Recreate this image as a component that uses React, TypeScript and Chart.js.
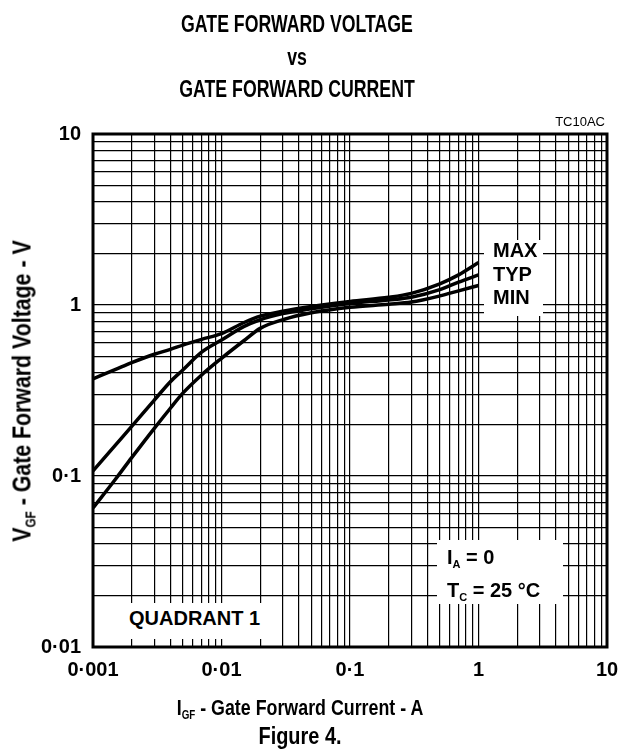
import React, { useEffect, useRef } from 'react';
import { Chart, registerables } from 'chart.js';

Chart.register(...registerables);

// ---- data ----
const currentA = [0.001, 0.0015, 0.002, 0.003, 0.004, 0.005, 0.007, 0.01, 0.015, 0.02, 0.03, 0.05, 0.1, 0.2, 0.3, 0.5, 0.7, 1.0];
const vMax = [0.37, 0.42, 0.46, 0.515, 0.55, 0.583, 0.63, 0.68, 0.79, 0.86, 0.92, 0.98, 1.05, 1.11, 1.17, 1.33, 1.5, 1.77];
const vTyp = [0.107, 0.152, 0.195, 0.278, 0.356, 0.417, 0.53, 0.624, 0.75, 0.82, 0.89, 0.95, 1.02, 1.07, 1.11, 1.23, 1.36, 1.5];
const vMin = [0.065, 0.096, 0.128, 0.19, 0.249, 0.305, 0.39, 0.488, 0.62, 0.73, 0.82, 0.9, 0.97, 1.01, 1.04, 1.13, 1.21, 1.3];

const xMajor = [0.001, 0.01, 0.1, 1, 10];
const xMajorLabels = ['0·001', '0·01', '0·1', '1', '10'];
const yMajor = [0.01, 0.1, 1, 10];
const yMajorLabels = ['0·01', '0·1', '1', '10'];
const minorMultipliers = [1, 2, 3, 4, 5, 6, 7, 8, 9];

const FONT = '"Liberation Sans", Arial, Helvetica, sans-serif';

function decadeTicks(majors: number[]) {
  const out: { value: number }[] = [];
  for (let i = 0; i < majors.length; i++) {
    if (i === majors.length - 1) {
      out.push({ value: majors[i] });
    } else {
      for (const m of minorMultipliers) out.push({ value: majors[i] * m });
    }
  }
  return out;
}

function labelFor(v: number, majors: number[], labels: string[]) {
  for (let i = 0; i < majors.length; i++) {
    if (Math.abs(Math.log10(v) - Math.log10(majors[i])) < 1e-6) return labels[i];
  }
  return '';
}

const framePlugin = {
  id: 'frame',
  afterDraw(chart: any) {
    const { ctx, chartArea } = chart;
    ctx.save();
    ctx.strokeStyle = '#000';
    ctx.lineWidth = 3;
    ctx.strokeRect(chartArea.left, chartArea.top, chartArea.right - chartArea.left, chartArea.bottom - chartArea.top);
    ctx.restore();
  },
};

export default function App() {
  const ref = useRef<HTMLCanvasElement | null>(null);

  useEffect(() => {
    if (!ref.current) return;
    const mk = (vals: number[]) => currentA.map((x, i) => ({ x, y: vals[i] }));
    const lineStyle = {
      borderColor: '#000',
      borderWidth: 3.5,
      pointRadius: 0,
      fill: false,
      cubicInterpolationMode: 'monotone' as const,
    };
    const chart = new Chart(ref.current, {
      type: 'line',
      data: {
        datasets: [
          { label: 'MAX', data: mk(vMax), ...lineStyle },
          { label: 'TYP', data: mk(vTyp), ...lineStyle },
          { label: 'MIN', data: mk(vMin), ...lineStyle },
        ],
      },
      options: {
        animation: false,
        responsive: false,
        layout: { padding: { left: 0, right: 12, top: 134, bottom: 67 } },
        plugins: { legend: { display: false }, tooltip: { enabled: false }, title: { display: false } },
        scales: {
          x: {
            type: 'logarithmic',
            min: 0.001,
            max: 10,
            afterBuildTicks: (s: any) => { s.ticks = decadeTicks(xMajor); },
            afterFit: (s: any) => { s.height = 40; s.paddingLeft = 0; s.paddingRight = 0; },
            grid: { color: '#000', lineWidth: 1.2, drawTicks: false },
            border: { display: false },
            ticks: {
              autoSkip: false,
              maxRotation: 0,
              minRotation: 0,
              padding: 11,
              color: '#000',
              font: { family: FONT, weight: 'bold', size: 20 },
              callback: (v: any) => labelFor(Number(v), xMajor, xMajorLabels),
            },
          },
          y: {
            type: 'logarithmic',
            min: 0.01,
            max: 10,
            afterBuildTicks: (s: any) => { s.ticks = decadeTicks(yMajor); },
            afterFit: (s: any) => { s.width = 93; s.paddingTop = 0; s.paddingBottom = 0; },
            grid: { color: '#000', lineWidth: 1.2, drawTicks: false },
            border: { display: false },
            ticks: {
              autoSkip: false,
              padding: 12,
              color: '#000',
              font: { family: FONT, weight: 'bold', size: 20 },
              callback: (v: any) => labelFor(Number(v), yMajor, yMajorLabels),
            },
          },
        },
      },
      plugins: [framePlugin],
    } as any);
    return () => chart.destroy();
  }, []);

  const bold: React.CSSProperties = { fontFamily: FONT, fontWeight: 'bold', color: '#000', position: 'absolute', whiteSpace: 'nowrap' };
  const sub: React.CSSProperties = { fontSize: '0.55em', position: 'relative', top: '0.35em' };

  return (
    <div style={{ position: 'fixed', left: 0, top: 0, width: 619, height: 754, background: '#fff', overflow: 'hidden' }}>
      <canvas ref={ref} width={619} height={754} style={{ width: 619, height: 754, position: 'absolute', left: 0, top: 0 }} />
      {/* Title */}
      <div style={{ ...bold, left: 0, width: 594, top: 8, fontSize: 23, lineHeight: '32.5px', textAlign: 'center', whiteSpace: 'normal', transform: 'scaleX(0.77)' }}>
        GATE FORWARD VOLTAGE<br />vs<br />GATE FORWARD CURRENT
      </div>
      <div style={{ position: 'absolute', right: 14, top: 114, fontFamily: FONT, fontSize: 13, color: '#000' }}>TC10AC</div>

      {/* MAX / TYP / MIN label box */}
      <div style={{ ...bold, left: 484, top: 240, width: 59, height: 76, background: '#fff', fontSize: 20, lineHeight: '23.5px', paddingLeft: 9, boxSizing: 'border-box' }}>
        <div style={{ position: 'relative', top: -1 }}>MAX<br />TYP<br />MIN</div>
      </div>

      {/* Conditions box */}
      <div style={{ ...bold, left: 437, top: 540, width: 126, height: 64, background: '#fff', fontSize: 20, lineHeight: '30px', paddingLeft: 10, boxSizing: 'border-box' }}>
        <div style={{ position: 'relative', top: 2 }}>
          <div>I<span style={sub}>A</span> = 0</div>
          <div>T<span style={sub}>C</span> = 25 °C</div>
        </div>
      </div>

      {/* Quadrant box */}
      <div style={{ ...bold, left: 95, top: 603, width: 180, height: 36, background: '#fff', fontSize: 20, lineHeight: '30px', paddingLeft: 34, boxSizing: 'border-box' }}>
        QUADRANT 1
      </div>

      {/* Y axis title */}
      <div style={{ ...bold, left: 22, top: 391, fontSize: 26, transform: 'translate(-50%, -50%) rotate(-90deg) scaleX(0.82)' }}>
        V<span style={sub}>GF</span> - Gate Forward Voltage - V
      </div>

      {/* X axis title */}
      <div style={{ ...bold, left: 300, top: 708, fontSize: 22, transform: 'translate(-50%, -50%) scaleX(0.81)' }}>
        I<span style={sub}>GF</span> - Gate Forward Current - A
      </div>

      {/* Figure caption */}
      <div style={{ ...bold, left: 300, top: 736, fontSize: 24, transform: 'translate(-50%, -50%) scaleX(0.83)' }}>
        Figure 4.
      </div>
    </div>
  );
}
